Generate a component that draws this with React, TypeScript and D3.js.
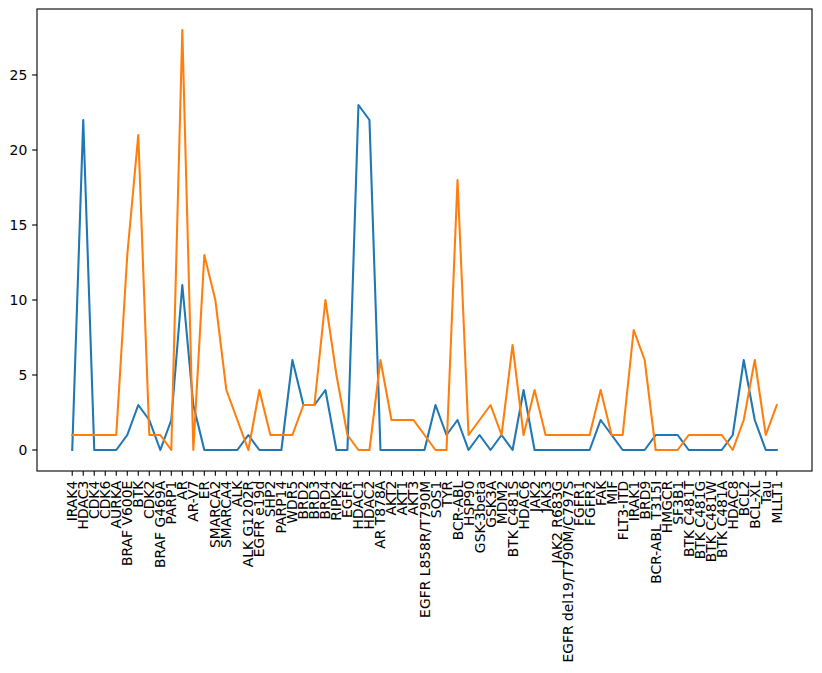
import React from "react";
import * as d3 from "d3";

const categories = [
  "IRAK4", "HDAC3", "CDK4", "CDK6", "AURKA", "BRAF V600E", "BTK", "CDK2", "BRAF G469A", "PARP1",
  "AR", "AR-V7", "ER", "SMARCA2", "SMARCA4", "ALK", "ALK G1202R", "EGFR e19d", "SHP2", "PARP14",
  "WDR5", "BRD2", "BRD3", "BRD4", "RIPK2", "EGFR", "HDAC1", "HDAC2", "AR T878A", "AKT2",
  "AKT1", "AKT3", "EGFR L858R/T790M", "SOS1", "TYR", "BCR-ABL", "HSP90", "GSK-3beta", "GSK3A", "MDM2",
  "BTK C481S", "HDAC6", "JAK2", "JAK3", "JAK2 R683G", "EGFR del19/T790M/C797S", "FGFR1", "FGFR2", "FAK", "MIF",
  "FLT3-ITD", "IRAK1", "BRD9", "BCR-ABL T315I", "HMGCR", "SF3B1", "BTK C481T", "BTK C481G", "BTK C481W", "BTK C481A",
  "HDAC8", "BCL2", "BCL-XL", "Tau", "MLLT1",
];

const seriesBlue = [
  0, 22, 0, 0, 0, 1, 3, 2, 0, 2,
  11, 3, 0, 0, 0, 0, 1, 0, 0, 0,
  6, 3, 3, 4, 0, 0, 23, 22, 0, 0,
  0, 0, 0, 3, 1, 2, 0, 1, 0, 1,
  0, 4, 0, 0, 0, 0, 0, 0, 2, 1,
  0, 0, 0, 1, 1, 1, 0, 0, 0, 0,
  1, 6, 2, 0, 0,
];

const seriesOrange = [
  1, 1, 1, 1, 1, 13, 21, 1, 1, 0,
  28, 0, 13, 10, 4, 2, 0, 4, 1, 1,
  1, 3, 3, 10, 5, 1, 0, 0, 6, 2,
  2, 2, 1, 0, 0, 18, 1, 2, 3, 1,
  7, 1, 4, 1, 1, 1, 1, 1, 4, 1,
  1, 8, 6, 0, 0, 0, 1, 1, 1, 1,
  0, 2, 6, 1, 3,
];

const yTicks = [0, 5, 10, 15, 20, 25];

const W = 822;
const H = 673;
const left = 37;
const right = 812;
const top = 9;
const bottom = 471;
const font = "DejaVu Sans, sans-serif";
const fs = 13.9;
const tickLen = 4.86;
const pad = 4.86;

export default function App() {
  const n = categories.length;
  const x = d3.scaleLinear().domain([-0.05 * (n - 1), (n - 1) * 1.05]).range([left, right]);
  const y = d3.scaleLinear().domain([-1.4, 29.4]).range([bottom, top]);
  const line = d3
    .line<number>()
    .x((_, i) => x(i))
    .y((d) => y(d));

  return (
    <svg
      width={W}
      height={H}
      style={{ position: "absolute", left: 0, top: 0, background: "#fff" }}
      fontFamily={font}
    >
      <rect x={0} y={0} width={W} height={H} fill="#fff" />
      <path d={line(seriesBlue) || ""} fill="none" stroke="#1f77b4" strokeWidth={2.08} strokeLinejoin="round" strokeLinecap="square" />
      <path d={line(seriesOrange) || ""} fill="none" stroke="#ff7f0e" strokeWidth={2.08} strokeLinejoin="round" strokeLinecap="square" />
      <rect x={left} y={top} width={right - left} height={bottom - top} fill="none" stroke="#000" strokeWidth={1.1} />
      {yTicks.map((t) => (
        <g key={t}>
          <line x1={left - tickLen} x2={left} y1={y(t)} y2={y(t)} stroke="#000" strokeWidth={1.1} />
          <text x={left - tickLen - pad} y={y(t)} textAnchor="end" dominantBaseline="central" fontSize={fs} fill="#000">
            {t}
          </text>
        </g>
      ))}
      {categories.map((c, i) => (
        <g key={c}>
          <line x1={x(i)} x2={x(i)} y1={bottom} y2={bottom + tickLen} stroke="#000" strokeWidth={1.1} />
          <text
            transform={`translate(${x(i)},${bottom + tickLen + pad}) rotate(-90)`}
            textAnchor="end"
            dominantBaseline="central"
            fontSize={fs}
            fill="#000"
          >
            {c}
          </text>
        </g>
      ))}
    </svg>
  );
}
